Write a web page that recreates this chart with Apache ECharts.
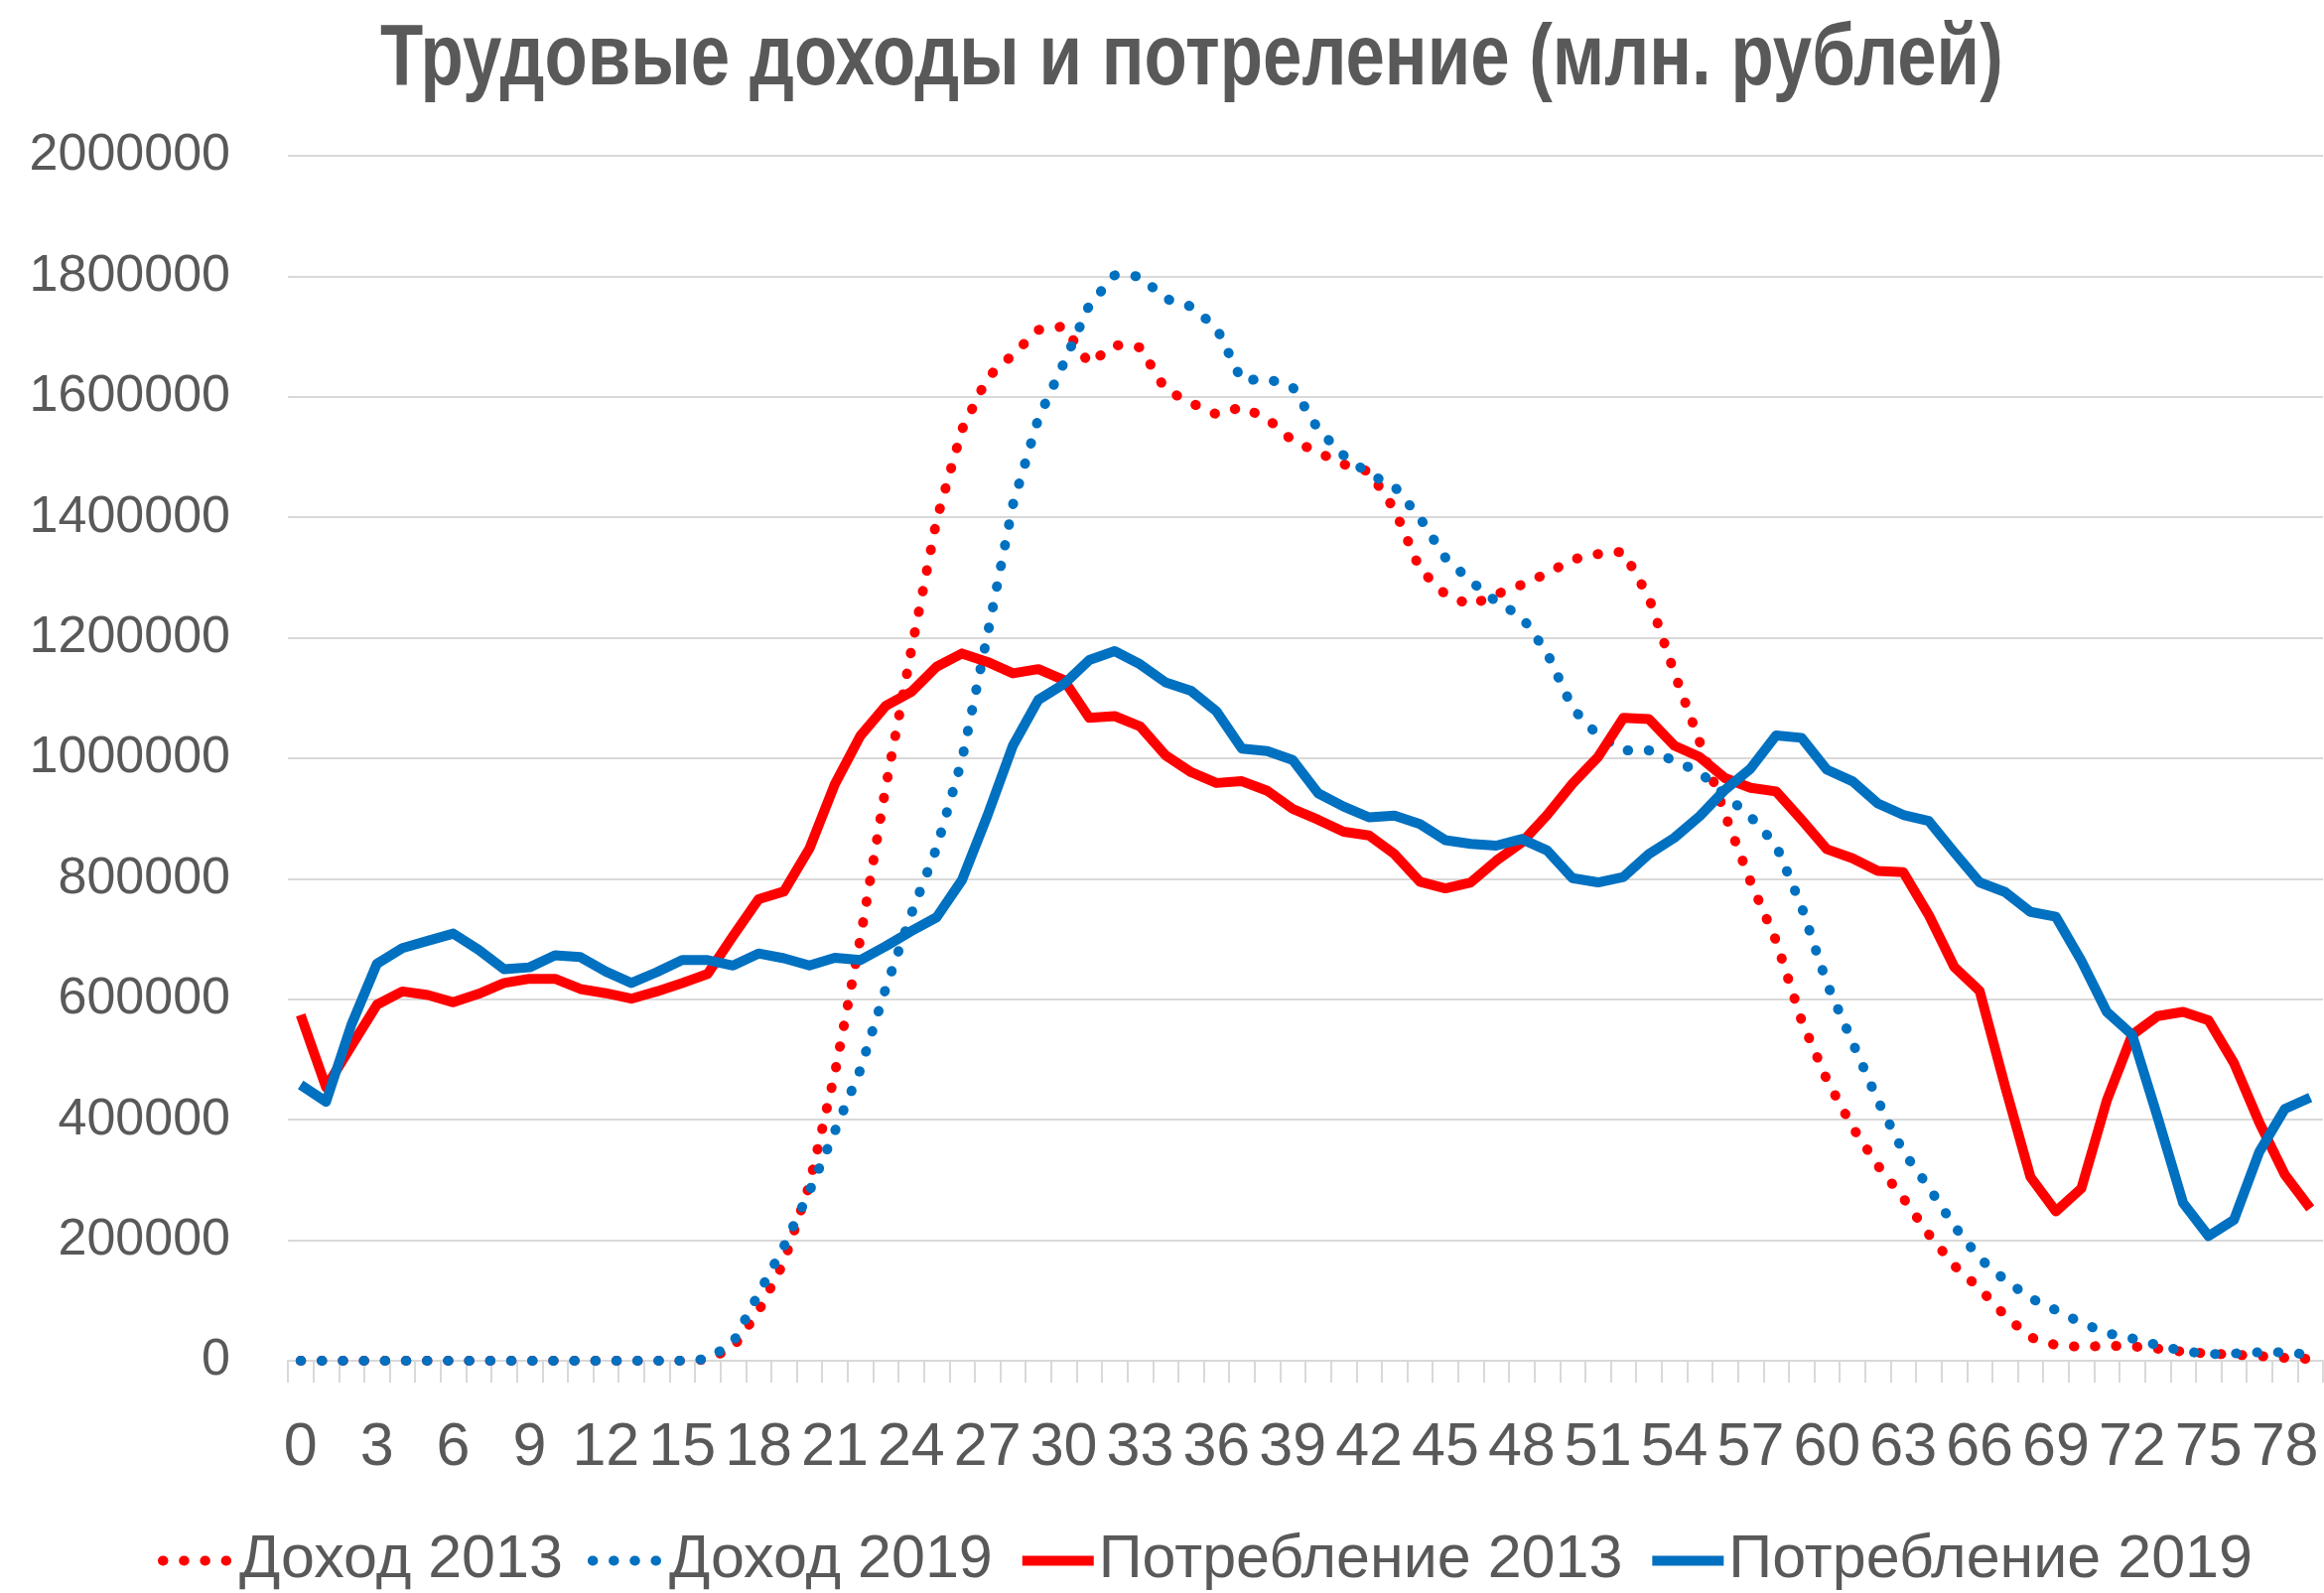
<!DOCTYPE html>
<html>
<head>
<meta charset="utf-8">
<script src="https://cdn.jsdelivr.net/npm/echarts@6/dist/echarts.min.js"></script>
<style>
  html, body { margin: 0; padding: 0; background: #fff; }
  #chart { width: 2341px; height: 1605px; }
</style>
</head>
<body>
<div id="chart"></div>
<script>
const ages = Array.from({ length: 80 }, (_, i) => String(i));

const income2013 = [
  0, 0, 0, 0, 0, 0, 0, 0, 0, 0, 0, 0, 0, 0, 0, 0, 2000, 22000, 82000, 164000,
  292000, 477000, 700000, 952000, 1178000, 1395000, 1546000, 1632000, 1670000, 1711000,
  1717000, 1655000, 1686000, 1682000, 1612000, 1590000, 1571000, 1583000, 1564000, 1527000,
  1508000, 1488000, 1476000, 1413000, 1314000, 1272000, 1254000, 1272000, 1288000, 1307000,
  1330000, 1339000, 1343000, 1267000, 1142000, 1027000, 906000, 795000, 697000, 565000,
  466000, 388000, 324000, 270000, 210000, 158000, 120000, 75000, 39000, 26000,
  23000, 25000, 24000, 20000, 15000, 12000, 10000, 8000, 5000, 3000
];

const income2019 = [
  0, 0, 0, 0, 0, 0, 0, 0, 0, 0, 0, 0, 0, 0, 0, 0, 3000, 30000, 111000, 190000,
  281000, 381000, 483000, 618000, 741000, 851000, 998000, 1205000, 1421000, 1564000,
  1656000, 1752000, 1802000, 1800000, 1763000, 1750000, 1715000, 1627000, 1630000, 1616000,
  1546000, 1503000, 1472000, 1451000, 1399000, 1333000, 1294000, 1260000, 1235000, 1175000,
  1083000, 1038000, 1013000, 1013000, 996000, 977000, 939000, 903000, 856000, 754000,
  626000, 529000, 432000, 347000, 288000, 224000, 170000, 134000, 104000, 84000,
  63000, 46000, 37000, 26000, 16000, 11000, 12000, 14000, 14000, 10000
];

const consumption2013 = [
  574000, 454000, 523000, 591000, 613000, 607000, 595000, 609000, 627000, 634000,
  634000, 617000, 610000, 601000, 613000, 627000, 642000, 705000, 766000, 779000,
  850000, 957000, 1037000, 1087000, 1110000, 1152000, 1174000, 1160000, 1141000, 1148000,
  1130000, 1067000, 1070000, 1053000, 1005000, 977000, 959000, 962000, 946000, 916000,
  898000, 878000, 872000, 841000, 795000, 784000, 794000, 830000, 860000, 906000,
  958000, 1002000, 1067000, 1065000, 1021000, 1002000, 967000, 951000, 945000, 898000,
  849000, 834000, 813000, 811000, 740000, 654000, 614000, 456000, 305000, 248000,
  286000, 432000, 541000, 572000, 579000, 565000, 494000, 395000, 309000, 253000
];

const consumption2019 = [
  458000, 430000, 558000, 659000, 685000, 697000, 709000, 682000, 650000, 653000,
  673000, 670000, 646000, 627000, 645000, 665000, 665000, 656000, 676000, 668000,
  656000, 669000, 665000, 688000, 713000, 736000, 798000, 905000, 1021000, 1097000,
  1123000, 1163000, 1178000, 1156000, 1126000, 1112000, 1078000, 1016000, 1012000, 997000,
  942000, 920000, 902000, 905000, 891000, 864000, 858000, 855000, 866000, 847000,
  801000, 794000, 803000, 841000, 868000, 904000, 948000, 983000, 1038000, 1034000,
  981000, 962000, 925000, 906000, 896000, 844000, 794000, 778000, 745000, 737000,
  664000, 579000, 541000, 404000, 262000, 207000, 234000, 347000, 418000, 437000
];

const RED = "#ff0000";
const BLUE = "#0070c0";
const TEXT = "#595959";
const GRID = "#d9d9d9";
const FONT = "'Liberation Sans', Arial, sans-serif";

function dotted(name, data, color) {
  return {
    name, type: "line", data, symbol: "none", smooth: false,
    lineStyle: { color, width: 10, type: [0.5, 20.7], cap: "round" },
    itemStyle: { color },
  };
}

function solid(name, data, color) {
  return {
    name, type: "line", data, symbol: "none", smooth: false,
    lineStyle: { color, width: 10, join: "round" },
    itemStyle: { color },
  };
}

const chart = echarts.init(document.getElementById("chart"));
chart.setOption({
  animation: false,
  backgroundColor: "#fff",
  textStyle: { fontFamily: FONT, color: TEXT },
  // narrow bold title, squeezed horizontally like the original condensed face
  graphic: [{
    type: "text", x: 383, y: 17, scaleX: 0.805, originX: 0,
    style: {
      text: "Трудовые доходы и потреление (млн. рублей)",
      font: "bold 88px 'Liberation Sans', Arial, sans-serif",
      fill: TEXT, align: "left", verticalAlign: "top",
    },
  }],
  legend: {
    left: 154, top: 1537,
    itemWidth: 72, itemHeight: 20, itemGap: 25,
    itemStyle: { opacity: 0 },
    lineStyle: { width: 10 },
    textStyle: { fontFamily: FONT, fontSize: 61, color: TEXT },
    data: ["Доход 2013", "Доход 2019", "Потребление 2013", "Потребление 2019"],
  },
  grid: { left: 290, right: 1, top: 157, bottom: 234, containLabel: false },
  xAxis: {
    type: "category", data: ages, boundaryGap: true,
    axisLine: { lineStyle: { color: GRID, width: 2 } },
    axisTick: { show: true, interval: 0, length: 22, lineStyle: { color: GRID, width: 2 } },
    axisLabel: { interval: 2, fontFamily: FONT, fontSize: 61, color: TEXT, margin: 58 },
    splitLine: { show: false },
  },
  yAxis: {
    type: "value", min: 0, max: 2000000, interval: 200000,
    axisLine: { show: false }, axisTick: { show: false },
    axisLabel: { fontFamily: FONT, fontSize: 52, color: TEXT, margin: 58, formatter: (v) => String(v) },
    splitLine: { lineStyle: { color: GRID, width: 2 } },
  },
  series: [
    dotted("Доход 2013", income2013, RED),
    dotted("Доход 2019", income2019, BLUE),
    solid("Потребление 2013", consumption2013, RED),
    solid("Потребление 2019", consumption2019, BLUE),
  ],
});
</script>
</body>
</html>
